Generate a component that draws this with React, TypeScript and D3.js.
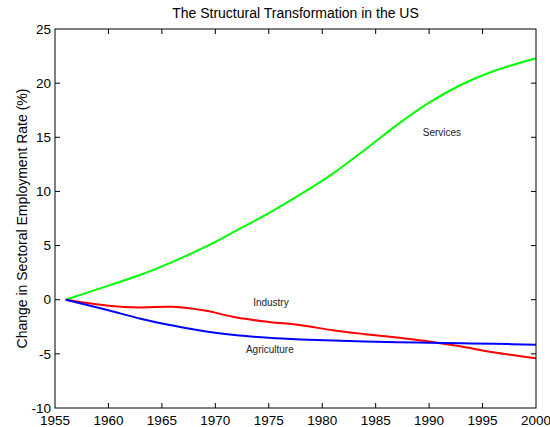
import { useEffect, useRef } from "react";
import * as d3 from "d3";

// years
const years = [1956, 1960, 1963, 1966, 1969, 1972, 1975, 1978, 1981, 1984, 1987, 1990, 1993, 1996, 2000];
const services = [0, 1.3, 2.3, 3.5, 4.85, 6.4, 8.0, 9.75, 11.65, 13.85, 16.15, 18.2, 19.85, 21.1, 22.3];
const industry = [0, -0.55, -0.71, -0.65, -1.0, -1.65, -2.05, -2.35, -2.82, -3.18, -3.5, -3.85, -4.33, -4.85, -5.4];
const agriculture = [0, -0.98, -1.75, -2.38, -2.92, -3.28, -3.52, -3.67, -3.77, -3.86, -3.92, -3.97, -4.02, -4.07, -4.15];

const xTicks = [1955, 1960, 1965, 1970, 1975, 1980, 1985, 1990, 1995, 2000];
const yTicks = [-10, -5, 0, 5, 10, 15, 20, 25];

const seriesNames = ["Services", "Industry", "Agriculture"];
const seriesColors = ["#00ff00", "#ff0000", "#0000ff"];
// label anchor (year, value) for each series name
const labelYears = [1991.2, 1975.2, 1975.1];
const labelValues = [15.45, -0.22, -4.58];

const width = 550;
const height = 427;
const margin = { top: 29, right: 14, bottom: 19, left: 55 };
const font = "'Liberation Sans', Arial, sans-serif";

export default function App() {
  const ref = useRef<SVGSVGElement>(null);

  useEffect(() => {
    const svg = d3.select(ref.current);
    svg.selectAll("*").remove();

    const x = d3.scaleLinear([1955, 2000], [margin.left, width - margin.right]);
    const y = d3.scaleLinear([-10, 25], [height - margin.bottom, margin.top]);

    const x0 = x(1955), x1 = x(2000), y0 = y(-10), y1 = y(25);

    // lines
    const line = d3.line<[number, number]>()
      .x(d => x(d[0]))
      .y(d => y(d[1]))
      .curve(d3.curveCatmullRom.alpha(0.5));

    [services, industry, agriculture].forEach((vals, i) => {
      svg.append("path")
        .datum(years.map((yr, j) => [yr, vals[j]] as [number, number]))
        .attr("fill", "none")
        .attr("stroke", seriesColors[i])
        .attr("stroke-width", 2)
        .attr("d", line);
    });

    // frame
    svg.append("rect")
      .attr("x", x0)
      .attr("y", y1)
      .attr("width", x1 - x0)
      .attr("height", y0 - y1)
      .attr("fill", "none")
      .attr("stroke", "#000")
      .attr("stroke-width", 1);

    const tickLen = 5;
    const g = svg.append("g").attr("stroke", "#000").attr("stroke-width", 1);

    xTicks.slice(1, -1).forEach(t => {
      g.append("line").attr("x1", x(t)).attr("x2", x(t)).attr("y1", y0).attr("y2", y0 - tickLen);
      g.append("line").attr("x1", x(t)).attr("x2", x(t)).attr("y1", y1).attr("y2", y1 + tickLen);
    });
    yTicks.slice(1, -1).forEach(t => {
      g.append("line").attr("x1", x0).attr("x2", x0 + tickLen).attr("y1", y(t)).attr("y2", y(t));
      g.append("line").attr("x1", x1).attr("x2", x1 - tickLen).attr("y1", y(t)).attr("y2", y(t));
    });

    // tick labels
    svg.append("g")
      .selectAll("text")
      .data(xTicks)
      .join("text")
      .attr("x", d => x(d))
      .attr("y", y0 + 17)
      .attr("text-anchor", "middle")
      .attr("font-family", font)
      .attr("font-size", 13.5)
      .text(d => d);

    svg.append("g")
      .selectAll("text")
      .data(yTicks)
      .join("text")
      .attr("x", x0 - 4)
      .attr("y", d => y(d))
      .attr("dy", "0.35em")
      .attr("text-anchor", "end")
      .attr("font-family", font)
      .attr("font-size", 13.5)
      .text(d => d);

    // title and axis label
    svg.append("text")
      .attr("x", (x0 + x1) / 2)
      .attr("y", 18)
      .attr("text-anchor", "middle")
      .attr("font-family", font)
      .attr("font-size", 14)
      .text("The Structural Transformation in the US");

    svg.append("text")
      .attr("transform", `translate(27,${(y0 + y1) / 2}) rotate(-90)`)
      .attr("text-anchor", "middle")
      .attr("font-family", font)
      .attr("font-size", 14)
      .text("Change in Sectoral Employment Rate (%)");

    // series labels
    seriesNames.forEach((name, i) => {
      svg.append("text")
        .attr("x", x(labelYears[i]))
        .attr("y", y(labelValues[i]))
        .attr("dy", "0.35em")
        .attr("text-anchor", "middle")
        .attr("font-family", font)
        .attr("font-size", 10)
        .attr("fill", "#222")
        .text(name);
    });
  }, []);

  return (
    <svg
      ref={ref}
      width={width}
      height={height}
      style={{ position: "absolute", left: 0, top: 0, background: "#fff" }}
    />
  );
}
